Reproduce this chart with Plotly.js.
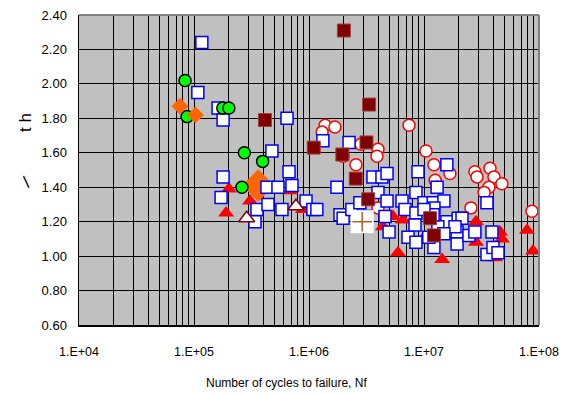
<!DOCTYPE html>
<html><head><meta charset="utf-8">
<script src="https://cdn.plot.ly/plotly-3.0.1.min.js"></script>
<style>html,body{margin:0;padding:0;background:#fff}#chart{width:577px;height:394px}</style>
</head><body><div id="chart"></div>
<script>
// Blue open squares
var sqN = [1.17e5,1.08e5,1.62e5,1.79e5,1.79e5,1.72e5,3.53e5,3.39e5,4.31e5,5.37e5,4.4e5,4.76e5,6.44e5,6.7e5,7.11e5,5.82e5,9.42e5,1.08e6,1.17e6,1.32e6,1.75e6,1.86e6,1.98e6,2.23e6,2.36e6,2.77e6,3.6e6,4.31e6,4.77e6,8.87e6,1.58e7,3.98e6,4.77e6,6.44e6,6.84e6,8.51e6,1.0e7,1.2e7,1.3e7,1.49e7,4.58e6,4.97e6,7.26e6,8.51e6,8.51e6,8.35e6,1.22e7,1.22e7,1.55e7,1.58e7,1.94e7,1.94e7,1.98e7,2.14e7,1.86e7,2.46e7,2.77e7,3.53e7,3.9e7,3.53e7,3.98e7,4.4e7,1.32e7,1.49e7,1.1e7,1.2e7,1.0e7,3.13e6];
var sqY = [2.24,1.95,1.86,1.79,1.46,1.34,1.27,1.20,1.40,1.40,1.30,1.61,1.80,1.49,1.41,1.27,1.32,1.27,1.27,1.67,1.40,1.24,1.22,1.66,1.27,1.31,1.46,1.46,1.48,1.49,1.53,1.37,1.32,1.32,1.27,1.37,1.31,1.31,1.40,1.32,1.23,1.14,1.11,1.25,1.08,1.18,1.28,1.05,1.14,1.20,1.14,1.07,1.22,1.22,1.17,1.12,1.14,1.31,1.14,1.01,1.05,1.02,1.17,1.13,1.11,1.24,1.27,1.23];
// Red open ellipses
var elN = [1.38e6,1.68e6,1.3e6,2.83e6,1.98e6,2.56e6,7.41e6,3.98e6,3.9e6,1.04e7,1.22e7,1.68e7,1.25e7,1.3e7,3.98e6,2.77e7,2.89e7,3.75e7,4.06e7,4.76e7,3.67e7,3.33e7,2.56e7,8.69e7];
var elY = [1.76,1.75,1.72,1.65,1.58,1.53,1.76,1.62,1.58,1.61,1.53,1.48,1.44,1.40,1.28,1.49,1.46,1.51,1.46,1.42,1.40,1.37,1.28,1.26];
// Dark red filled squares
var mrN = [2.01e6,4.14e5,3.33e6,1.10e6,1.95e6,2.55e6,3.16e6,3.27e6,1.13e7,1.22e7];
var mrY = [2.31,1.79,1.88,1.63,1.59,1.45,1.66,1.33,1.22,1.12];
// Red filled triangles
var trN = [2.01e5,1.9e5,3.07e5,6.84e5,8.87e5,5.37e6,6.56e6,4.4e6,5.94e6,1.44e7,9.8e6,2.83e7,2.83e7,4.58e7,4.76e7,7.87e7,8.87e7,4.14e7];
var trY = [1.39,1.25,1.32,1.38,1.27,1.23,1.21,1.17,1.02,0.98,1.10,1.20,1.08,1.14,1.10,1.15,1.03,0.99];
// Green circles
var grN = [8.36e4,8.7e4,1.78e5,2.01e5,2.74e5,3.95e5,2.61e5];
var grY = [2.02,1.81,1.86,1.86,1.60,1.55,1.40];
// Orange diamonds
var orN = [7.55e4,1.03e5];
var orY = [1.87,1.82];
var orBigN = [3.62e5];
var orBigY = [1.41];
// White triangles
var wtN = [2.87e5,7.7e5];
var wtY = [1.22,1.29];
// Cross on white square
var crN = [2.9e6];
var crY = [1.20];

var xTickVals = [1e4,1e5,1e6,1e7,1e8];
var xTickText = ['1.E+04','1.E+05','1.E+06','1.E+07','1.E+08'];
var yTickVals = [0.6,0.8,1.0,1.2,1.4,1.6,1.8,2.0,2.2,2.4];

var minorVals = [];
for (var d = 4; d < 8; d++) for (var k = 2; k <= 9; k++) minorVals.push(k * Math.pow(10, d));

var traces = [
  {x: elN, y: elY, mode:'markers', type:'scatter', marker:{symbol:'circle', size:12, color:'#ffffff', line:{color:'#ff0000', width:1.5}}},
  {x: trN, y: trY, mode:'markers', type:'scatter', marker:{symbol:'triangle-up', size:14, color:'#ff0000', line:{width:0}}},
  {x: orBigN, y: orBigY, mode:'markers', type:'scatter', marker:{symbol:'diamond', size:25, color:'#ff6600', line:{width:0}}},
  {x: sqN, y: sqY, mode:'markers', type:'scatter', marker:{symbol:'square', size:12, color:'#ffffff', line:{color:'#0000ff', width:1.5}}},
  {x: mrN, y: mrY, mode:'markers', type:'scatter', marker:{symbol:'square', size:13, color:'#800000', line:{color:'#a04040', width:1}}},
  {x: wtN, y: wtY, mode:'markers', type:'scatter', marker:{symbol:'triangle-up', size:14, color:'#ffffff', line:{color:'#800000', width:1.5}}},
  {x: grN, y: grY, mode:'markers', type:'scatter', marker:{symbol:'circle', size:12, color:'#00ff00', line:{color:'#000000', width:1.5}}},
  {x: orN, y: orY, mode:'markers', type:'scatter', marker:{symbol:'diamond', size:13, color:'#ff6600', line:{width:0}}},
  {x: crN, y: crY, mode:'markers', type:'scatter', marker:{symbol:'square', size:23, color:'#ffffff', line:{width:0}}},
  {x: crN, y: crY, mode:'markers', type:'scatter', marker:{symbol:'cross-thin', size:14, color:'#b0602a', line:{color:'#b0602a', width:1.5}}}
];

var fnt = 'Liberation Sans, Arial, sans-serif';
var layout = {
  width:577, height:394,
  margin:{l:79, r:38, t:15, b:69},
  paper_bgcolor:'#ffffff', plot_bgcolor:'#c0c0c0',
  showlegend:false,
  font:{family:fnt, size:13, color:'#000'},
  xaxis:{type:'log', range:[4,8], tickmode:'array', tickvals:xTickVals, ticktext:xTickText,
    showgrid:true, gridcolor:'#000', gridwidth:1, zeroline:false,
    showline:true, linecolor:'#000', linewidth:1.5, ticks:'', ticklabelstandoff:14,
    tickfont:{family:fnt, size:12.5, color:'#000'},
    minor:{tickmode:'array', tickvals:minorVals, showgrid:true, gridcolor:'#000', gridwidth:1, ticks:''}},
  yaxis:{range:[0.6,2.4], tickmode:'array', tickvals:yTickVals, tickformat:'.2f',
    showgrid:true, gridcolor:'#000', gridwidth:1, zeroline:false,
    showline:true, linecolor:'#000', linewidth:1.5, ticks:'', ticklabelstandoff:8,
    tickfont:{family:fnt, size:13, color:'#000'}},
  shapes:[
    {type:'line', xref:'paper', yref:'paper', x0:0, x1:1, y0:1, y1:1, line:{color:'#808080', width:2}},
    {type:'line', xref:'paper', yref:'paper', x0:1, x1:1, y0:0, y1:1, line:{color:'#808080', width:2}}
  ],
  annotations:[
    {text:'Number of cycles to failure, Nf', xref:'paper', yref:'paper', x:(286-79)/460, y:-(383-325)/310, xanchor:'center', yanchor:'middle', showarrow:false, font:{family:fnt, size:12, color:'#000'}},
    {text:'t h', xref:'paper', yref:'paper', x:-(79-25)/460, y:(325-123)/310, xanchor:'center', yanchor:'middle', showarrow:false, textangle:-90, font:{family:fnt, size:17, color:'#000'}},
    {text:'/', xref:'paper', yref:'paper', x:-(79-26)/460, y:(325-182)/310, xanchor:'center', yanchor:'middle', showarrow:false, textangle:-40, font:{family:fnt, size:17, color:'#000'}}
  ]
};
Plotly.newPlot('chart', traces, layout, {displayModeBar:false, staticPlot:true});
</script></body></html>
